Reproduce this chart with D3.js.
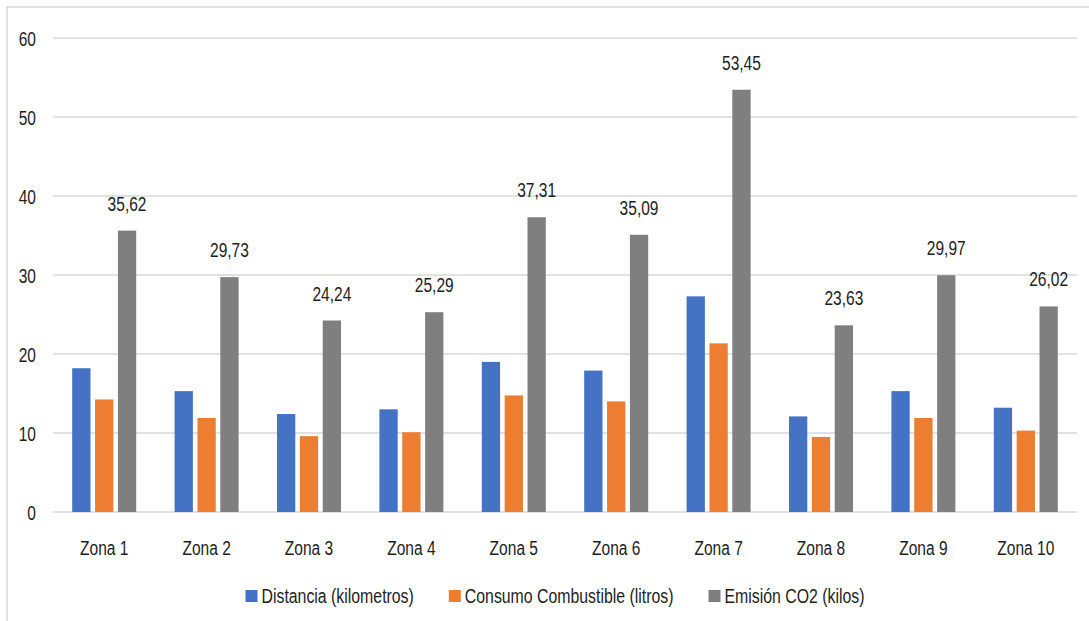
<!DOCTYPE html>
<html>
<head>
<meta charset="utf-8">
<script src="https://cdn.jsdelivr.net/npm/d3@7"></script>
<style>
  html, body { margin: 0; padding: 0; background: #fff; }
  svg { display: block; }
  text { font-family: "Liberation Sans", Arial, sans-serif; fill: #1e1e1e; }
</style>
</head>
<body>
<svg id="chart" width="1089" height="621"></svg>
<script>
// Zones and series
const zones = ["Zona 1", "Zona 2", "Zona 3", "Zona 4", "Zona 5", "Zona 6", "Zona 7", "Zona 8", "Zona 9", "Zona 10"];
const seriesNames = ["Distancia (kilometros)", "Consumo Combustible (litros)", "Emisión CO2 (kilos)"];
const distancia = [18.2, 15.3, 12.4, 13.0, 19.0, 17.9, 27.3, 12.1, 15.3, 13.2];
const consumo = [14.25, 11.9, 9.6, 10.1, 14.75, 14.0, 21.35, 9.5, 11.9, 10.3];
const emision = [35.62, 29.73, 24.24, 25.29, 37.31, 35.09, 53.45, 23.63, 29.97, 26.02];
const yTicks = [0, 10, 20, 30, 40, 50, 60];
const colors = ["#4472C4", "#ED7D31", "#7F7F7F"];

const seriesValues = [distancia, consumo, emision];
const rows = zones.map((z, i) => ({ zone: z, values: seriesValues.map(s => s[i]) }));

const svg = d3.select("#chart");
const W = 1089, H = 621;
const plot = { left: 53, right: 1077, top: 38, bottom: 512 };
const sx = 0.74;      // narrow text for axes and labels
const sxLegend = 0.755;
const fontSize = "21px";

// Chart frame
svg.append("path")
  .attr("d", `M7,${H} L7,7 L${W},7`)
  .attr("fill", "none").attr("stroke", "#d9d9d9").attr("stroke-width", 1.5);

const x = d3.scaleBand().domain(zones).range([plot.left, plot.right]).padding(0);
const xs = d3.scaleBand().domain(d3.range(3)).range([-32, 32]).paddingInner(0.2).paddingOuter(0);
const y = d3.scaleLinear().domain([0, 60]).range([plot.bottom, plot.top]);

// Gridlines
svg.append("g").selectAll("line").data(yTicks).join("line")
  .attr("x1", plot.left).attr("x2", plot.right)
  .attr("y1", d => y(d)).attr("y2", d => y(d))
  .attr("stroke", "#d9d9d9").attr("stroke-width", 1.5);

// Y axis labels
const yAxis = svg.append("g").attr("transform", `translate(${plot.left},0)`)
  .call(d3.axisLeft(y).tickValues(yTicks).tickSize(0).tickPadding(0).tickFormat(d3.format("d")));
yAxis.select(".domain").remove();
yAxis.selectAll("text")
  .attr("x", 0).attr("dy", "0.35em")
  .attr("transform", `translate(-17,0) scale(${sx},1)`)
  .style("font-size", fontSize).style("font-family", "Liberation Sans, Arial, sans-serif").style("fill", "#1e1e1e");

// X axis labels
const xAxis = svg.append("g").attr("transform", `translate(0,${plot.bottom})`)
  .call(d3.axisBottom(x).tickSize(0).tickPadding(0));
xAxis.select(".domain").remove();
xAxis.selectAll("text")
  .attr("y", 0).attr("dy", "0.35em")
  .attr("transform", `translate(0,36) scale(${sx},1)`)
  .style("font-size", fontSize).style("font-family", "Liberation Sans, Arial, sans-serif").style("fill", "#1e1e1e");

// Bars
const groups = svg.append("g").selectAll("g").data(rows).join("g")
  .attr("transform", d => `translate(${x(d.zone) + x.bandwidth() / 2},0)`);

groups.selectAll("rect").data(d => d.values.map((v, k) => ({ v, k }))).join("rect")
  .attr("x", d => xs(d.k))
  .attr("width", xs.bandwidth())
  .attr("y", d => y(d.v))
  .attr("height", d => y(0) - y(d.v))
  .attr("fill", d => colors[d.k]);

// Value labels on the CO2 series
const esLocale = d3.formatLocale({ decimal: ",", thousands: ".", grouping: [3], currency: ["", " €"] });
const fmt = esLocale.format(".2f");
groups.append("text")
  .attr("transform", d => `translate(${xs(2) + xs.bandwidth() / 2},${y(d.values[2]) - 20}) scale(${sx},1)`)
  .attr("text-anchor", "middle")
  .style("font-size", fontSize)
  .text(d => fmt(d.values[2]));

// Legend
const legend = svg.append("g");
const items = legend.selectAll("g").data(seriesNames).join("g");
items.append("rect").attr("width", 12).attr("height", 12).attr("y", -6).attr("fill", (d, i) => colors[i]);
items.append("text")
  .attr("transform", `translate(16,0) scale(${sxLegend},1)`)
  .attr("dy", "0.35em")
  .style("font-size", fontSize)
  .text(d => d);
let cursor = 0;
const offsets = [];
items.each(function (d, i) {
  const tw = d3.select(this).select("text").node().getComputedTextLength() * sxLegend;
  offsets.push(cursor);
  cursor += 16 + tw + 35;
});
const totalW = cursor - 35;
const legendLeft = 555 - totalW / 2;
items.attr("transform", (d, i) => `translate(${legendLeft + offsets[i]},596)`);
</script>
</body>
</html>
